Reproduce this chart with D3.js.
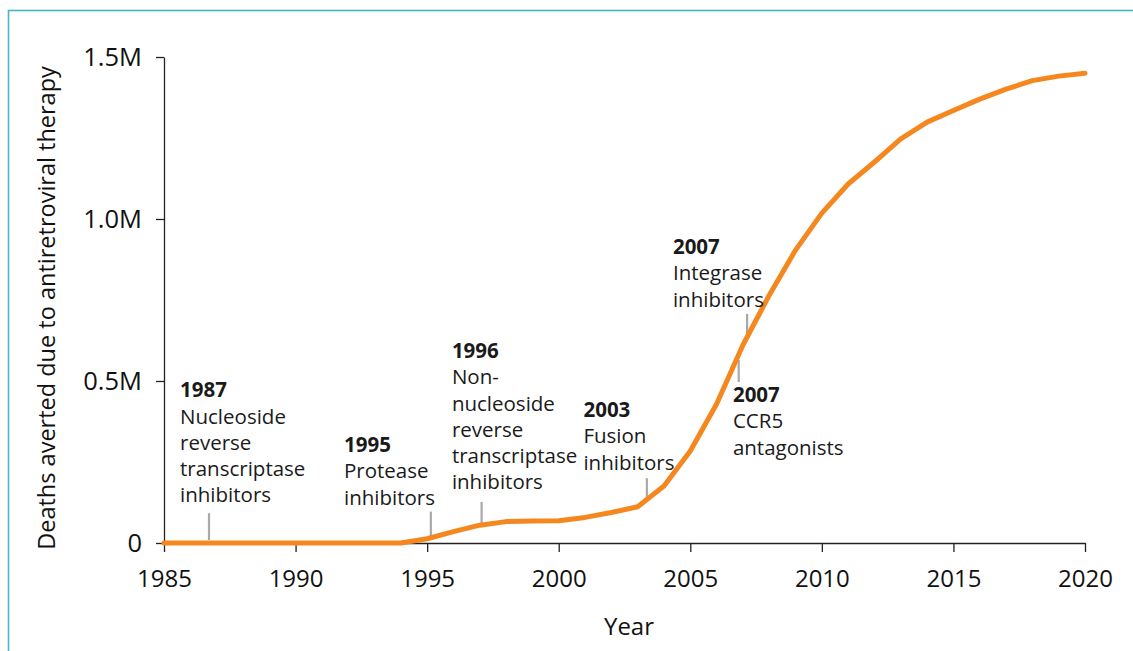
<!DOCTYPE html>
<html lang="en">
<head>
<meta charset="UTF-8">
<title>Deaths averted due to antiretroviral therapy</title>
<style>
  html, body { margin: 0; padding: 0; background: #fff; }
  svg { display: block; font-family: "Open Sans", "Noto Sans", sans-serif; }
  .axis path, .axis line { stroke: #222; stroke-width: 1.3; }
  .axis text { font-size: 24px; fill: #111; font-family: "Open Sans", "Noto Sans", sans-serif; }
  .axis.y text { font-size: 25.5px; }
</style>
</head>
<body>
<script src="https://cdn.jsdelivr.net/npm/d3@7"></script>
<script>
// data
var years = [1985, 1986, 1987, 1988, 1989, 1990, 1991, 1992, 1993, 1994,
             1995, 1996, 1997, 1998, 1999, 2000, 2001, 2002, 2003, 2004,
             2005, 2006, 2007, 2008, 2009, 2010, 2011, 2012, 2013, 2014,
             2015, 2016, 2017, 2018, 2019, 2020];
var deaths = [0, 0, 0, 0, 0, 0, 0, 0, 0, 0,
              13000, 35000, 55000, 66000, 68000, 69000, 79000, 94000, 112000, 176000,
              284000, 429000, 611000, 765000, 904000, 1018000, 1108000, 1176000, 1247000, 1299000,
              1335000, 1370000, 1401000, 1427000, 1441000, 1450000];

var yTicks = [0, 500000, 1000000, 1500000];
var yTickLabels = ["0", "0.5M", "1.0M", "1.5M"];
var xTicks = [1985, 1990, 1995, 2000, 2005, 2010, 2015, 2020];

// drug class annotations: marker year + value span, text anchor (year, value)
var noteYears  = ["1987", "1995", "1996", "2003", "2007", "2007"];
var noteLines  = [
  ["Nucleoside", "reverse", "transcriptase", "inhibitors"],
  ["Protease", "inhibitors"],
  ["Non-", "nucleoside", "reverse", "transcriptase", "inhibitors"],
  ["Fusion", "inhibitors"],
  ["Integrase", "inhibitors"],
  ["CCR5", "antagonists"]
];
var markX      = [1986.71, 1995.14, 1997.07, 2003.35, 2007.16, 2006.84];
var markTop    = [92000, 97000, 127000, 200000, 707000, 565000];
var markBottom = [9000, 19000, 50000, 139000, 633000, 497000];
var textX      = [1985.61, 1991.84, 1995.94, 2000.94, 2004.34, 2006.62];
var textY      = [450000, 281000, 571000, 389000, 892000, 435000];

var width = 1133, height = 651, margin = {t: 57, r: 48, b: 108, l: 164};
var w = width - margin.l - margin.r, h = height - margin.t - margin.b;

var svg = d3.select("body").append("svg").attr("width", width).attr("height", height);

// teal frame
svg.append("rect").attr("x", 8.5).attr("y", 10.5).attr("width", 1200).attr("height", 800)
   .attr("fill", "none").attr("stroke", "#46b6c4").attr("stroke-width", 1.6);

var g = svg.append("g").attr("transform", "translate(" + margin.l + "," + margin.t + ")");

var x = d3.scaleLinear().domain([1985, 2020]).range([0, w]);
var y = d3.scaleLinear().domain([0, 1500000]).range([h, 0]);

g.append("g").attr("class", "axis x")
  .attr("transform", "translate(0," + h + ")")
  .call(d3.axisBottom(x).tickValues(xTicks).tickFormat(d3.format("d")).tickSize(9).tickPadding(18).tickSizeOuter(0));

g.append("g").attr("class", "axis y")
  .call(d3.axisLeft(y).tickValues(yTicks).tickFormat(function(d, i) { return yTickLabels[i]; })
        .tickSize(8).tickPadding(14).tickSizeOuter(0));

g.selectAll(".axis").attr("font-family", null).attr("font-size", null);

// axis titles
svg.append("text").attr("x", 629).attr("y", 635).attr("text-anchor", "middle")
   .style("font-size", "24px").attr("fill", "#111").text("Year");
svg.append("text").attr("transform", "translate(55,308) rotate(-90)")
   .attr("text-anchor", "middle").style("font-size", "23.5px").attr("fill", "#111")
   .text("Deaths averted due to antiretroviral therapy");

// marker ticks
noteYears.forEach(function(n, i) {
  g.append("line")
    .attr("x1", x(markX[i])).attr("x2", x(markX[i]))
    .attr("y1", y(markTop[i])).attr("y2", y(markBottom[i]))
    .attr("stroke", "#a9a9a9").attr("stroke-width", 2.2);
});

// series line
var line = d3.line().x(function(d, i) { return x(years[i]); }).y(function(d) { return y(d); });
g.append("path").datum(deaths)
  .attr("d", line).attr("fill", "none")
  .attr("stroke", "#f5871f").attr("stroke-width", 5)
  .attr("stroke-linejoin", "round").attr("stroke-linecap", "round");

// annotation texts
noteYears.forEach(function(n, i) {
  var t = g.append("text").attr("x", x(textX[i])).attr("y", y(textY[i]))
    .style("font-size", "20.5px").attr("fill", "#1a1a1a");
  t.append("tspan").attr("x", x(textX[i])).attr("font-weight", "bold").text(n);
  noteLines[i].forEach(function(s) {
    t.append("tspan").attr("x", x(textX[i])).attr("dy", 26.3).text(s);
  });
});
</script>
</body>
</html>
